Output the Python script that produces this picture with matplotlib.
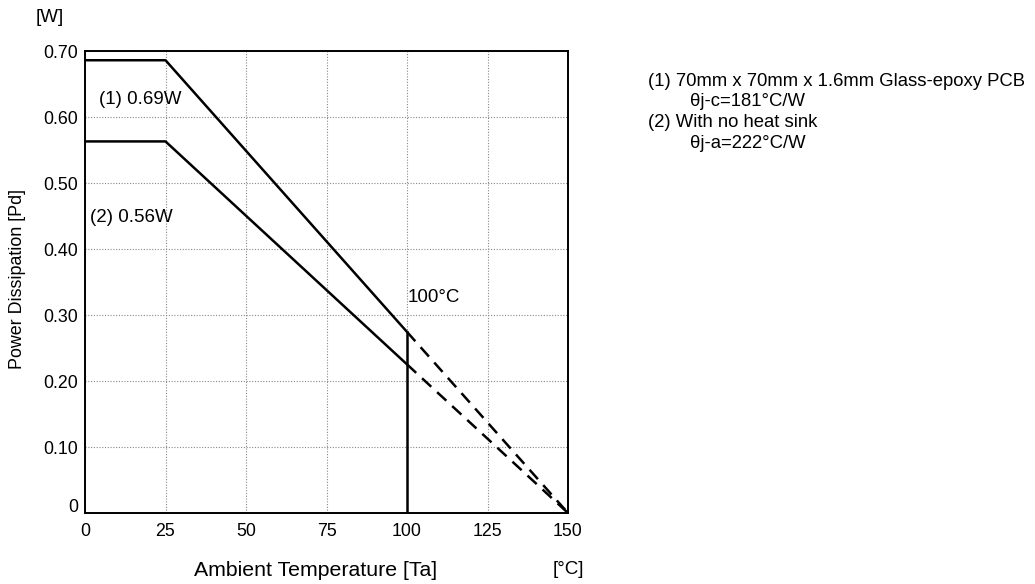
import matplotlib
matplotlib.use("Agg")
import matplotlib.pyplot as plt
import matplotlib.transforms as mtransforms

plt.rcParams['font.family'] = ['Liberation Sans', 'DejaVu Sans']

# Derating curves: flat up to 25 °C, linear to zero at 150 °C
temp_flat_end = 25
temp_limit = 100
temp_zero = 150
pd_pcb = 0.686      # (1) 0.69 W on glass-epoxy PCB
pd_free = 0.563     # (2) 0.56 W, no heat sink

x_ticks = [0, 25, 50, 75, 100, 125, 150]
y_ticks = [0, 0.10, 0.20, 0.30, 0.40, 0.50, 0.60, 0.70]
y_tick_labels = ['0', '0.10', '0.20', '0.30', '0.40', '0.50', '0.60', '0.70']

def pd_at(p0, t):
    if t <= temp_flat_end:
        return p0
    return p0 * (temp_zero - t) / (temp_zero - temp_flat_end)

W, H = 1035, 584
fig = plt.figure(figsize=(W / 100, H / 100), dpi=100)
ax = fig.add_axes([85 / W, 1 - 513 / H, 483 / W, 462 / H])

for p0 in (pd_pcb, pd_free):
    xs = [0, temp_flat_end, temp_limit]
    ax.plot(xs, [pd_at(p0, t) for t in xs], color='black', lw=1.8,
            solid_capstyle='butt', zorder=3)
    xd = [temp_limit, temp_zero]
    ax.plot(xd, [pd_at(p0, t) for t in xd], color='black', lw=1.8,
            dashes=(5, 3.2), zorder=3)

# 100 °C limit marker
ax.plot([temp_limit, temp_limit], [0, pd_at(pd_pcb, temp_limit)],
        color='black', lw=1.8, zorder=3)

ax.set_xlim(0, 150)
ax.set_ylim(0, 0.70)
ax.set_xticks(x_ticks)
ax.set_yticks(y_ticks)
ax.set_yticklabels(y_tick_labels)
ax.grid(True, color='#888888', linestyle=(0, (1, 1.5)), linewidth=0.8)
ax.set_axisbelow(True)
for s in ax.spines.values():
    s.set_linewidth(1.4)
ax.tick_params(length=0, labelsize=12.8, pad=5)
ax.tick_params(axis='x', pad=7)

# lift the zero label slightly above the baseline
zero_lbl = ax.get_yticklabels()[0]
zero_lbl.set_transform(zero_lbl.get_transform() +
                       mtransforms.ScaledTranslation(0, 7 / 100, fig.dpi_scale_trans))

fs = 13.5
ax.text(4.35, 0.626, '(1) 0.69W', fontsize=fs, ha='left', va='center')
ax.text(1.55, 0.448, '(2) 0.56W', fontsize=fs, ha='left', va='center')
ax.text(100.3, 0.327, '100°C', fontsize=fs, ha='left', va='center')

fig.text(36 / W, 1 - 17 / H, '[W]', fontsize=13.5, ha='left', va='center')
fig.text(553 / W, 1 - 570 / H, '[°C]', fontsize=13.5, ha='left', va='center')
fig.text(316 / W, 1 - 571 / H, 'Ambient Temperature [Ta]', fontsize=15.3,
         ha='center', va='center')
fig.text(18 / W, 1 - 279 / H, 'Power Dissipation [Pd]', fontsize=12.9,
         ha='center', va='center', rotation=90)

notes = [
    (648, 82, '(1) 70mm x 70mm x 1.6mm Glass-epoxy PCB'),
    (690, 102, 'θj-c=181°C/W'),
    (648, 122.5, '(2) With no heat sink'),
    (690, 143, 'θj-a=222°C/W'),
]
for px, py, s in notes:
    fig.text(px / W, 1 - py / H, s, fontsize=13.3, ha='left', va='center')

fig.savefig('out.png', dpi=100)
